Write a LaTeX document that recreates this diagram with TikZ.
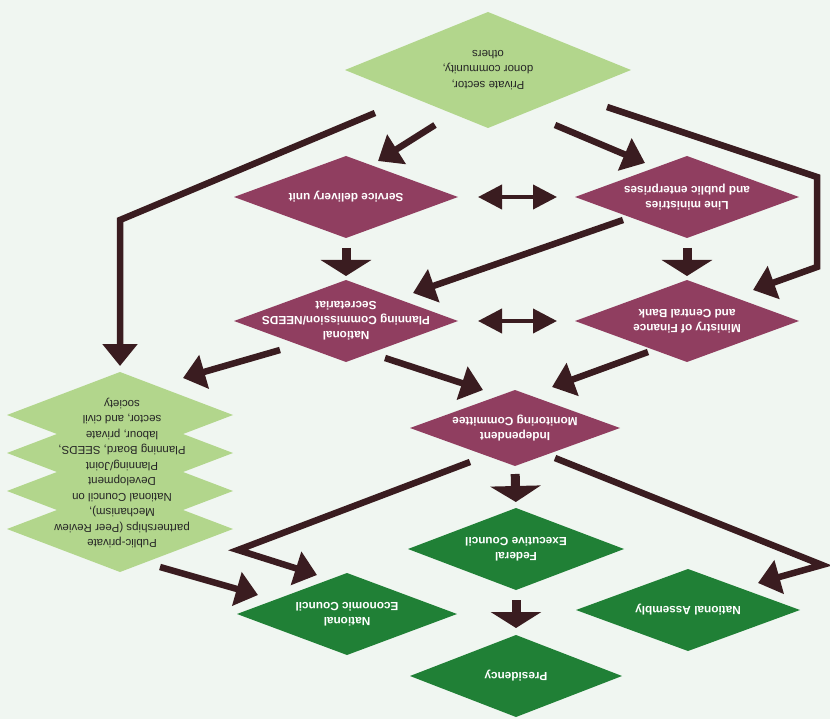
\documentclass[tikz,border=0pt]{standalone}
\usepackage{fontspec}
\setmainfont{Liberation Sans}
\usetikzlibrary{arrows.meta,shapes.geometric}
\definecolor{plum}{RGB}{144,62,96}
\definecolor{leafgreen}{RGB}{32,128,54}
\definecolor{palegreen}{RGB}{178,214,140}
\definecolor{arrowbrown}{RGB}{58,28,32}
\definecolor{paper}{RGB}{240,246,241}

\begin{document}
\begin{tikzpicture}[x=1pt,y=-1pt,
  diam/.style={diamond,inner sep=0pt,outer sep=0pt,
               minimum width=224pt,minimum height=82pt},
  agency/.style={diam,fill=plum},
  council/.style={diam,fill=leafgreen},
  partner/.style={diam,fill=palegreen},
  boldtxt/.style={rotate=180,align=center,text=white,
                  font=\bfseries\fontsize{11.8}{15}\selectfont},
  plaintxt/.style={rotate=180,align=center,text=black!85,
                   font=\fontsize{11.5}{15.5}\selectfont},
  flow/.style={draw=arrowbrown,line width=6.5pt,
               -{Triangle[width=34pt,length=22pt]}},
  drop/.style={draw=arrowbrown,line width=9pt,
               -{Triangle[width=50pt,length=16pt]}},
  link/.style={draw=arrowbrown,line width=4pt,
               {Triangle[width=24pt,length=24pt]}-{Triangle[width=24pt,length=24pt]}}
]
\fill[paper] (0,0) rectangle (830,719);
\useasboundingbox (0,0) rectangle (830,719);

\node[partner,minimum width=286pt,minimum height=116pt] (priv) at (488,70) {};
\node[plaintxt] (priv-txt) at (priv) {Private sector,\\donor community,\\others};

\node[agency] (sdu) at (346,197) {};
\node[boldtxt] (sdu-txt) at (sdu) {Service delivery unit};
\node[agency] (lme) at (687,197) {};
\node[boldtxt] (lme-txt) at (lme) {Line ministries\\and public enterprises};
\node[agency] (npc) at (346,321) {};
\node[boldtxt] (npc-txt) at (npc) {National\\Planning Commission/NEEDS\\Secretariat};
\node[agency] (mof) at (687,321) {};
\node[boldtxt] (mof-txt) at (mof) {Ministry of Finance\\and Central Bank};
\node[agency,minimum width=210pt,minimum height=76pt] (imc) at (515,428) {};
\node[boldtxt] (imc-txt) at (imc) {Independent\\Monitoring Committee};

\node[partner,minimum width=226pt,minimum height=86pt] (st1) at (120,415) {};
\node[partner,minimum width=226pt,minimum height=86pt] (st2) at (120,453) {};
\node[partner,minimum width=226pt,minimum height=86pt] (st3) at (120,491) {};
\node[partner,minimum width=226pt,minimum height=86pt] (st4) at (120,529) {};
\node[plaintxt] (st-txt) at (122,473) {Public-private\\partnerships (Peer Review\\Mechanism),\\National Council on\\Development\\Planning/Joint\\Planning Board, SEEDS,\\labour, private\\sector, and civil\\society};

\node[council,minimum width=216pt] (fec) at (516,549) {};
\node[boldtxt] (fec-txt) at (fec) {Federal\\Executive Council};
\node[council,minimum width=220pt] (nec) at (347,614) {};
\node[boldtxt] (nec-txt) at (nec) {National\\Economic Council};
\node[council] (nas) at (688,610) {};
\node[boldtxt] (nas-txt) at (nas) {National Assembly};
\node[council,minimum width=212pt] (pres) at (516,676) {};
\node[boldtxt] (pres-txt) at (pres) {Presidency};

\draw[flow] ([shift={(-53,-3)}]priv.south) -- ([shift={(32,5)}]sdu.north);
\draw[flow] ([shift={(67,-3)}]priv.south) -- ([shift={(-42,7)}]lme.north);
\draw[flow] ([shift={(-113,-15)}]priv.south) -- ([shift={(0,-152)}]st1.north)
  -- ([shift={(0,-6)}]st1.north);
\draw[flow] ([shift={(119,-21)}]priv.south) -- ([shift={(18,-144)}]mof.east)
  -- ([shift={(18,-54)}]mof.east) -- ([shift={(66,10)}]mof.north);
\draw[drop,shorten <=10pt,shorten >=4pt] (sdu.south) -- (npc.north);
\draw[drop,shorten <=10pt,shorten >=4pt] (lme.south) -- (mof.north);
\draw[link,shorten <=20pt,shorten >=18pt] (sdu.east) -- (lme.west);
\draw[link,shorten <=20pt,shorten >=18pt] (npc.east) -- (mof.west);
\draw[flow] ([shift={(48,23)}]lme.west) -- ([shift={(67,13)}]npc.north);
\draw[flow] ([shift={(-66,-12)}]npc.south) -- ([shift={(63,6)}]st1.north);
\draw[flow] ([shift={(39,-4)}]npc.south) -- ([shift={(-32,0)}]imc.north);
\draw[flow] ([shift={(-39,-10)}]mof.south) -- ([shift={(37,-3)}]imc.north);
\draw[drop,shorten <=8pt,shorten >=6pt] (imc.south) -- (fec.north);
\draw[flow] ([shift={(-45,-4)}]imc.south) -- ([shift={(1,-64)}]nec.west)
  -- ([shift={(-30,2)}]nec.north);
\draw[flow] ([shift={(40,-8)}]imc.south) -- ([shift={(22,-45)}]nas.east)
  -- ([shift={(70,14)}]nas.north);
\draw[flow] ([shift={(40,-5)}]st4.south) -- ([shift={(21,-19)}]nec.west);
\draw[drop,shorten <=10pt,shorten >=7pt] (fec.south) -- (pres.north);
\end{tikzpicture}
\end{document}
